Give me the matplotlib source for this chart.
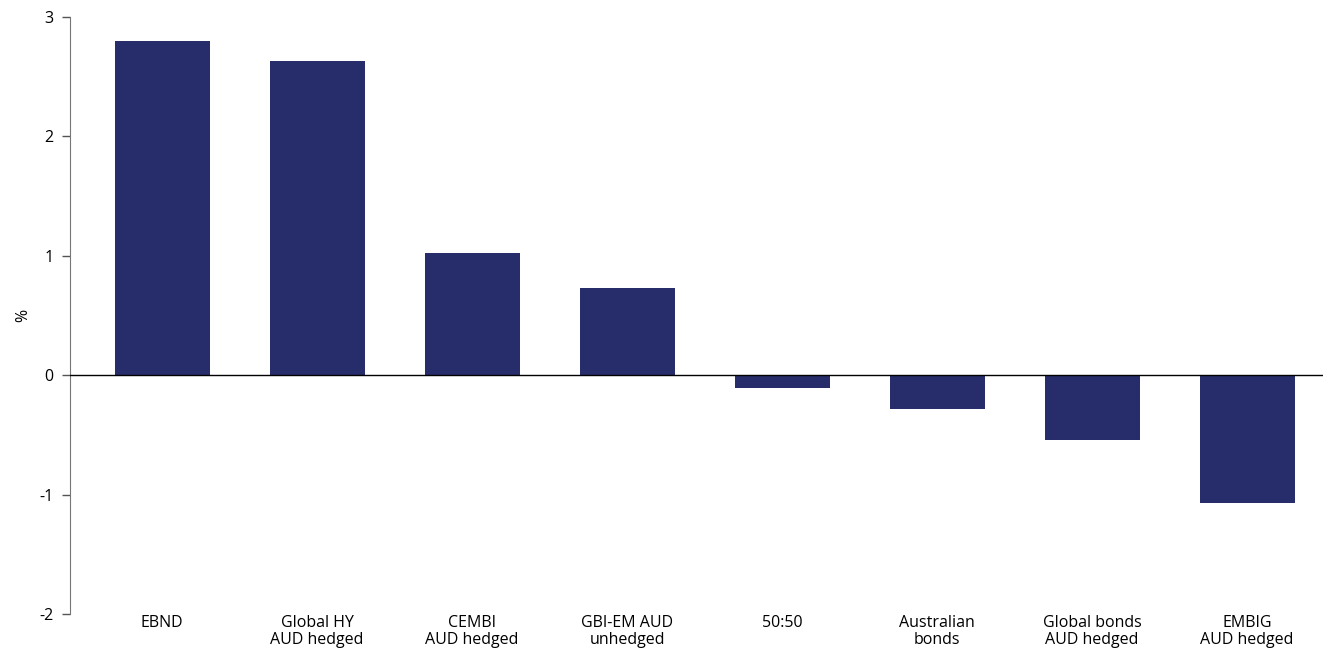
import matplotlib.pyplot as plt

categories = ['EBND', 'Global HY\nAUD hedged', 'CEMBI\nAUD hedged', 'GBI-EM AUD\nunhedged',
              '50:50', 'Australian\nbonds', 'Global bonds\nAUD hedged', 'EMBIG\nAUD hedged']
returns = [2.80, 2.63, 1.02, 0.73, -0.11, -0.28, -0.54, -1.07]
yticks = [-2, -1, 0, 1, 2, 3]

plt.rcParams['font.family'] = ['Open Sans', 'DejaVu Sans']
plt.rcParams['font.size'] = 11.5

fig = plt.figure(figsize=(13.23, 6.48), dpi=100)
ax = fig.add_axes([70 / 1323, 1 - 614 / 648, 1 - 70 / 1323, (614 - 17) / 648])

x = list(range(len(categories)))
ax.bar(x, returns, width=0.613, color='#272C6B', zorder=2)
ax.axhline(0, color='black', linewidth=1, zorder=3)

ax.set_xlim(-0.594, 7.49)
ax.set_ylim(-2, 3)
ax.set_yticks(yticks)
ax.set_yticklabels([str(t) for t in yticks])
ax.set_xticks(x)
ax.set_xticklabels(categories, linespacing=1.05)
ax.tick_params(axis='x', length=0, pad=1)
ax.tick_params(axis='y', length=6, width=1, color='#555555', pad=6)
ax.set_ylabel('%', labelpad=6)

for side in ['top', 'right', 'bottom']:
    ax.spines[side].set_visible(False)
ax.spines['left'].set_color('#777777')

fig.savefig('out.png', dpi=100)
